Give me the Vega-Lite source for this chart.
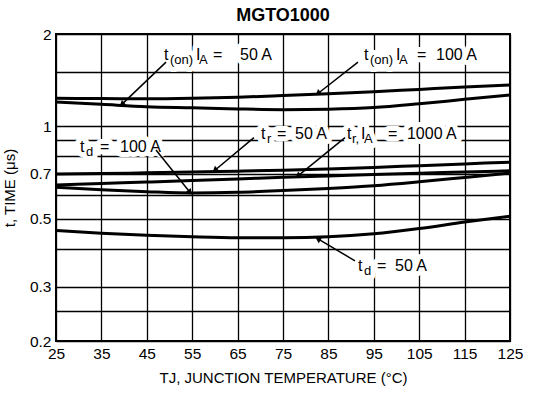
{
  "$schema": "https://vega.github.io/schema/vega-lite/v6.json",
  "autosize": {"type": "none"},
  "width": 454,
  "height": 307,
  "padding": {"left": 56, "top": 34, "right": 26, "bottom": 54},
  "background": "white",
  "title": {"text": "MGTO1000", "fontSize": 18, "fontWeight": "bold", "font": "Liberation Sans", "color": "black", "offset": 2},
  "config": {
    "view": {"stroke": "black", "strokeWidth": 2},
    "axis": {
      "labelFont": "Liberation Sans", "titleFont": "Liberation Sans",
      "labelFontSize": 15.5, "titleFontSize": 15, "titleFontWeight": "normal",
      "labelColor": "black", "titleColor": "black",
      "gridColor": "black", "gridOpacity": 1, "gridWidth": 1.3,
      "ticks": false, "domain": false, "labelPadding": 5
    }
  },
  "datasets": {
    "curves": [
      {"series": "ton100", "T": 25, "t": 1.235}, {"series": "ton100", "T": 35, "t": 1.232}, {"series": "ton100", "T": 45, "t": 1.23}, {"series": "ton100", "T": 55, "t": 1.235}, {"series": "ton100", "T": 65, "t": 1.245}, {"series": "ton100", "T": 75, "t": 1.26}, {"series": "ton100", "T": 85, "t": 1.277}, {"series": "ton100", "T": 95, "t": 1.297}, {"series": "ton100", "T": 105, "t": 1.32}, {"series": "ton100", "T": 115, "t": 1.343}, {"series": "ton100", "T": 125, "t": 1.365},
      {"series": "ton50", "T": 25, "t": 1.2}, {"series": "ton50", "T": 35, "t": 1.18}, {"series": "ton50", "T": 45, "t": 1.16}, {"series": "ton50", "T": 55, "t": 1.15}, {"series": "ton50", "T": 65, "t": 1.14}, {"series": "ton50", "T": 75, "t": 1.134}, {"series": "ton50", "T": 85, "t": 1.138}, {"series": "ton50", "T": 95, "t": 1.152}, {"series": "ton50", "T": 105, "t": 1.185}, {"series": "ton50", "T": 115, "t": 1.225}, {"series": "ton50", "T": 125, "t": 1.265},
      {"series": "tr50", "T": 25, "t": 0.7}, {"series": "tr50", "T": 35, "t": 0.702}, {"series": "tr50", "T": 45, "t": 0.706}, {"series": "tr50", "T": 55, "t": 0.71}, {"series": "tr50", "T": 65, "t": 0.715}, {"series": "tr50", "T": 75, "t": 0.72}, {"series": "tr50", "T": 85, "t": 0.727}, {"series": "tr50", "T": 95, "t": 0.735}, {"series": "tr50", "T": 105, "t": 0.745}, {"series": "tr50", "T": 115, "t": 0.755}, {"series": "tr50", "T": 125, "t": 0.765},
      {"series": "tr1000", "T": 25, "t": 0.645}, {"series": "tr1000", "T": 35, "t": 0.652}, {"series": "tr1000", "T": 45, "t": 0.659}, {"series": "tr1000", "T": 55, "t": 0.666}, {"series": "tr1000", "T": 65, "t": 0.674}, {"series": "tr1000", "T": 75, "t": 0.683}, {"series": "tr1000", "T": 85, "t": 0.69}, {"series": "tr1000", "T": 95, "t": 0.697}, {"series": "tr1000", "T": 105, "t": 0.704}, {"series": "tr1000", "T": 115, "t": 0.71}, {"series": "tr1000", "T": 125, "t": 0.717},
      {"series": "td100", "T": 25, "t": 0.634}, {"series": "td100", "T": 35, "t": 0.622}, {"series": "td100", "T": 45, "t": 0.613}, {"series": "td100", "T": 55, "t": 0.607}, {"series": "td100", "T": 65, "t": 0.61}, {"series": "td100", "T": 75, "t": 0.618}, {"series": "td100", "T": 85, "t": 0.628}, {"series": "td100", "T": 95, "t": 0.641}, {"series": "td100", "T": 105, "t": 0.66}, {"series": "td100", "T": 115, "t": 0.682}, {"series": "td100", "T": 125, "t": 0.705},
      {"series": "td50", "T": 25, "t": 0.458}, {"series": "td50", "T": 35, "t": 0.449}, {"series": "td50", "T": 45, "t": 0.442}, {"series": "td50", "T": 55, "t": 0.437}, {"series": "td50", "T": 65, "t": 0.434}, {"series": "td50", "T": 75, "t": 0.434}, {"series": "td50", "T": 85, "t": 0.437}, {"series": "td50", "T": 95, "t": 0.447}, {"series": "td50", "T": 105, "t": 0.465}, {"series": "td50", "T": 115, "t": 0.488}, {"series": "td50", "T": 125, "t": 0.51}
    ],
    "mainText": [
      {"label": "t", "T": 48.79, "t": 1.709}, {"label": "I", "T": 55.84, "t": 1.709}, {"label": "=", "T": 59.58, "t": 1.709}, {"label": "50 A", "T": 65.53, "t": 1.709},
      {"label": "t", "T": 92.84, "t": 1.709}, {"label": "I", "T": 99.89, "t": 1.709}, {"label": "=", "T": 104.5, "t": 1.709}, {"label": "100 A", "T": 108.7, "t": 1.709},
      {"label": "t", "T": 30.29, "t": 0.86}, {"label": "=", "T": 34.69, "t": 0.86}, {"label": "100 A", "T": 39.1, "t": 0.86},
      {"label": "t", "T": 70.15, "t": 0.945}, {"label": "=", "T": 73.68, "t": 0.945}, {"label": "50 A", "T": 77.64, "t": 0.945},
      {"label": "t", "T": 89.1, "t": 0.945}, {"label": "I", "T": 92.18, "t": 0.945}, {"label": "=", "T": 98.13, "t": 0.945}, {"label": "1000 A", "T": 102.3, "t": 0.945},
      {"label": "t", "T": 91.52, "t": 0.352}, {"label": "=", "T": 95.7, "t": 0.352}, {"label": "50 A", "T": 99.67, "t": 0.352}
    ],
    "subText": [
      {"label": "(on)", "T": 50.11, "t": 1.709}, {"label": "A", "T": 56.5, "t": 1.709},
      {"label": "(on)", "T": 94.16, "t": 1.709}, {"label": "A", "T": 100.55, "t": 1.709},
      {"label": "d", "T": 31.6, "t": 0.86},
      {"label": "r", "T": 71.48, "t": 0.945},
      {"label": "r,", "T": 90.2, "t": 0.945}, {"label": "A", "T": 92.84, "t": 0.945},
      {"label": "d", "T": 92.84, "t": 0.352}
    ],
    "arrows": [
      {"T": 49.23, "t": 1.62, "T2": 39.5, "t2": 1.18, "dir": "a"},
      {"T": 91.52, "t": 1.62, "T2": 82.7, "t2": 1.28, "dir": "a"},
      {"T": 47.03, "t": 0.838, "T2": 54.5, "t2": 0.61, "dir": "b"},
      {"T": 68.6, "t": 0.919, "T2": 60.0, "t2": 0.72, "dir": "a"},
      {"T": 88.66, "t": 0.919, "T2": 78.3, "t2": 0.69, "dir": "a"},
      {"T": 90.86, "t": 0.365, "T2": 82.7, "t2": 0.43, "dir": "c"}
    ]
  },
  "encoding": {
    "x": {"field": "T", "type": "quantitative",
      "scale": {"domain": [25, 125], "nice": false, "zero": false},
      "axis": {"values": [25, 35, 45, 55, 65, 75, 85, 95, 105, 115, 125], "title": "TJ, JUNCTION TEMPERATURE (°C)", "titlePadding": 9, "labelFlush": false}},
    "y": {"field": "t", "type": "quantitative",
      "scale": {"type": "log", "domain": [0.2, 2], "nice": false},
      "axis": {"values": [0.2, 0.25, 0.3, 0.4, 0.5, 0.6, 0.7, 0.8, 0.9, 1, 1.5, 2], "format": "~g",
        "labelExpr": "(datum.value == 0.2 || datum.value == 0.3 || datum.value == 0.5 || datum.value == 0.7 || datum.value == 1 || datum.value == 2) ? datum.label : ''",
        "title": "t, TIME (μs)", "titlePadding": 12, "labelFlush": false}}
  },
  "layer": [
    {"data": {"name": "mainText"}, "mark": {"type": "text", "align": "left", "baseline": "middle", "fontSize": 16, "font": "Liberation Sans", "stroke": "white", "strokeWidth": 10, "strokeJoin": "round", "fill": "white"}, "encoding": {"text": {"field": "label"}}},
    {"data": {"name": "subText"}, "mark": {"type": "text", "align": "left", "baseline": "middle", "fontSize": 13, "dy": 5, "font": "Liberation Sans", "stroke": "white", "strokeWidth": 10, "strokeJoin": "round", "fill": "white"}, "encoding": {"text": {"field": "label"}}},
    {"data": {"name": "curves"}, "mark": {"type": "line", "color": "black", "strokeWidth": 3, "interpolate": "monotone"}, "encoding": {"detail": {"field": "series"}}},
    {"data": {"name": "arrows"}, "mark": {"type": "rule", "color": "black", "strokeWidth": 1.5}, "encoding": {"x2": {"field": "T2"}, "y2": {"field": "t2"}}},
    {"data": {"name": "arrows"}, "transform": [{"filter": "datum.dir == 'a'"}], "mark": {"type": "point", "shape": "triangle-up", "filled": true, "color": "black", "size": 45, "angle": 230, "opacity": 1}, "encoding": {"x": {"field": "T2", "type": "quantitative"}, "y": {"field": "t2", "type": "quantitative"}}},
    {"data": {"name": "arrows"}, "transform": [{"filter": "datum.dir == 'b'"}], "mark": {"type": "point", "shape": "triangle-up", "filled": true, "color": "black", "size": 45, "angle": 141, "opacity": 1}, "encoding": {"x": {"field": "T2", "type": "quantitative"}, "y": {"field": "t2", "type": "quantitative"}}},
    {"data": {"name": "arrows"}, "transform": [{"filter": "datum.dir == 'c'"}], "mark": {"type": "point", "shape": "triangle-up", "filled": true, "color": "black", "size": 45, "angle": 301, "opacity": 1}, "encoding": {"x": {"field": "T2", "type": "quantitative"}, "y": {"field": "t2", "type": "quantitative"}}},
    {"data": {"name": "mainText"}, "mark": {"type": "text", "align": "left", "baseline": "middle", "fontSize": 16, "font": "Liberation Sans", "color": "black"}, "encoding": {"text": {"field": "label"}}},
    {"data": {"name": "subText"}, "mark": {"type": "text", "align": "left", "baseline": "middle", "fontSize": 13, "dy": 5, "font": "Liberation Sans", "color": "black"}, "encoding": {"text": {"field": "label"}}}
  ]
}
